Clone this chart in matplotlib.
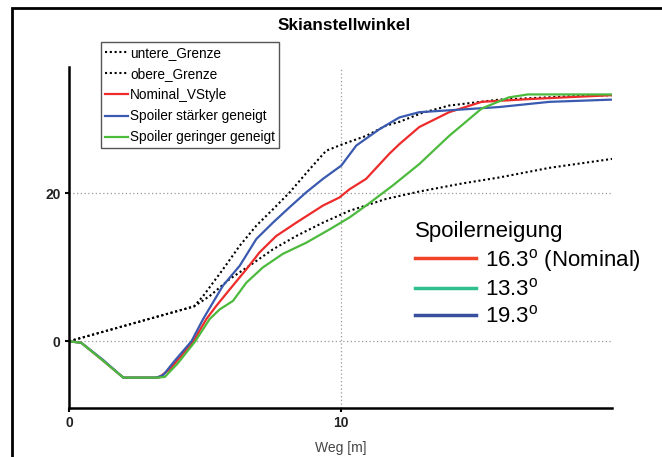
import matplotlib
matplotlib.use('Agg')
import matplotlib.pyplot as plt
from matplotlib.lines import Line2D
from matplotlib.patches import Rectangle

plt.rcParams['font.family'] = ['Liberation Sans', 'DejaVu Sans']
plt.rcParams['mathtext.fontset'] = 'custom'
plt.rcParams['mathtext.rm'] = 'Liberation Sans'
plt.rcParams['mathtext.it'] = 'Liberation Sans:italic'
plt.rcParams['mathtext.bf'] = 'Liberation Sans:bold'

# ---- data ----
lower_x = [0, 4.6, 5.18, 5.92, 6.65, 7.51, 8.37, 9.35, 10.33, 11.68, 12.9, 14.5, 15.85, 17.7, 20]
lower_y = [0, 4.7, 6.1, 8.4, 10.2, 12.4, 14.2, 16.0, 17.6, 19.2, 20.2, 21.3, 22.1, 23.4, 24.6]

upper_x = [0, 4.6, 4.94, 5.67, 6.29, 6.9, 7.51, 8.13, 8.86, 9.47, 10.09, 10.94, 11.68, 12.17, 13.0, 14.0, 15.85, 18.8, 20]
upper_y = [0, 4.7, 6.1, 9.7, 12.9, 15.6, 17.8, 20.1, 23.2, 25.7, 26.6, 27.7, 29.1, 29.6, 30.8, 31.8, 32.6, 33.1, 33.2]

nominal_x = [0, 0.45, 1.25, 2.0, 3.3, 3.71, 4.08, 4.58, 5.06, 5.43, 5.92, 6.53, 7.02, 7.63, 8.37, 9.35, 9.96, 10.33,
             10.94, 11.8, 12.17, 12.9, 14.0, 15.2, 17.1, 20]
nominal_y = [0, -0.2, -2.6, -4.9, -4.9, -3.8, -2.2, 0, 3.0, 4.8, 7.0, 9.7, 12.0, 14.2, 16.0, 18.3, 19.4, 20.5,
             21.9, 25.3, 26.6, 28.9, 30.9, 32.3, 32.7, 33.2]

steep_x = [0, 0.45, 1.25, 2.0, 3.2, 3.46, 3.9, 4.51, 4.94, 5.67, 6.29, 6.9, 7.51, 8.13, 8.74, 9.35, 9.84, 10.03,
           10.58, 11.43, 12.17, 12.9, 14.6, 15.85, 17.7, 20]
steep_y = [0, -0.2, -2.5, -4.9, -4.9, -4.6, -2.6, 0, 3.0, 7.5, 10.2, 13.8, 16.0, 18.1, 20.1, 21.9, 23.2, 23.7,
           26.4, 28.6, 30.2, 30.9, 31.3, 31.6, 32.3, 32.6]

flat_x = [0, 0.45, 1.25, 2.0, 3.3, 3.53, 4.0, 4.65, 5.18, 5.55, 6.04, 6.53, 7.14, 7.88, 8.74, 9.6, 10.33, 10.94,
          11.92, 12.9, 14.0, 15.2, 16.2, 16.9, 20]
flat_y = [0, -0.2, -2.6, -4.9, -4.9, -4.8, -3.0, 0, 3.0, 4.3, 5.45, 7.9, 9.96, 11.8, 13.3, 15.1, 16.7, 18.3,
          21.0, 23.9, 27.7, 31.4, 32.9, 33.3, 33.3]

series_labels = ['untere_Grenze', 'obere_Grenze', 'Nominal_VStyle', 'Spoiler stärker geneigt', 'Spoiler geringer geneigt']
angle_title = 'Spoilerneigung'
angle_labels = ['16.3$^{\\mathrm{o}}$ (Nominal)', '13.3$^{\\mathrm{o}}$', '19.3$^{\\mathrm{o}}$']
angle_colors = ['#f0432a', '#2ebf8e', '#3a4ea0']

x_ticks = [0, 10]
y_ticks = [0, 20]

# ---- figure ----
W, H = 662, 457
fig = plt.figure(figsize=(W / 100, H / 100), dpi=100)
fig.patch.set_facecolor('white')

# outer frame (cropped at right/bottom)
fig.patches.append(Rectangle((12 / W, -0.2), 1.2, 1 - 8 / H + 0.2, transform=fig.transFigure,
                             fill=False, edgecolor='black', linewidth=2.0, clip_on=False))

ax = fig.add_axes([69 / W, (H - 408) / H, (612 - 69) / W, (408 - 67) / H])
ax.set_xlim(0, 20)
ax.set_ylim(-9, 37)

dot = (0, (1, 1.3))
ax.plot(lower_x, lower_y, color='black', lw=1.5, linestyle=dot, label=series_labels[0])
ax.plot(upper_x, upper_y, color='black', lw=1.5, linestyle=dot, label=series_labels[1])
ax.plot(nominal_x, nominal_y, color='#ee2b2b', lw=1.6, label=series_labels[2])
ax.plot(steep_x, steep_y, color='#3a5aaf', lw=1.6, label=series_labels[3])
ax.plot(flat_x, flat_y, color='#4cba3c', lw=1.6, label=series_labels[4])

# grid lines at ticks
for yv in y_ticks:
    ax.axhline(yv, color='#999999', lw=0.9, linestyle=(0, (1, 2)), zorder=0)
ax.axvline(10, color='#999999', lw=0.9, linestyle=(0, (1, 2)), zorder=0)

for s in ['top', 'right']:
    ax.spines[s].set_visible(False)
for s in ['left', 'bottom']:
    ax.spines[s].set_linewidth(1.8)
ax.set_xticks(x_ticks)
ax.set_yticks(y_ticks)
ax.tick_params(length=3, width=1.5, labelsize=10, pad=3, colors='black')
for lab in ax.get_xticklabels() + ax.get_yticklabels():
    lab.set_fontweight('bold')
    lab.set_color('#222222')

ax.set_xlabel('Weg [m]', fontsize=10, color='#444444', labelpad=8)
fig.text(344 / W, 1 - 26 / H, 'Skianstellwinkel', ha='center', va='center', fontsize=12.3,
         fontweight='bold')

leg1 = ax.legend(loc='upper left', bbox_to_anchor=(101 / W, 1 - 42 / H), bbox_transform=fig.transFigure,
                 fontsize=9.8, frameon=True, fancybox=False, edgecolor='#555555', framealpha=1,
                 handlelength=1.7, handletextpad=0.15, labelspacing=0.52, borderpad=0.3,
                 borderaxespad=0)
leg1.get_frame().set_linewidth(1.0)
ax.add_artist(leg1)

handles2 = [Line2D([], [], color=c, lw=2.5) for c in angle_colors]
leg2 = ax.legend(handles2, angle_labels, title=angle_title, loc='upper left',
                 bbox_to_anchor=(406 / W, 1 - 212 / H), bbox_transform=fig.transFigure,
                 fontsize=16, title_fontsize=16, frameon=False, handlelength=2.75, handletextpad=0.4,
                 labelspacing=0.22, borderaxespad=0, alignment='left')

fig.savefig('out.png', dpi=100)
